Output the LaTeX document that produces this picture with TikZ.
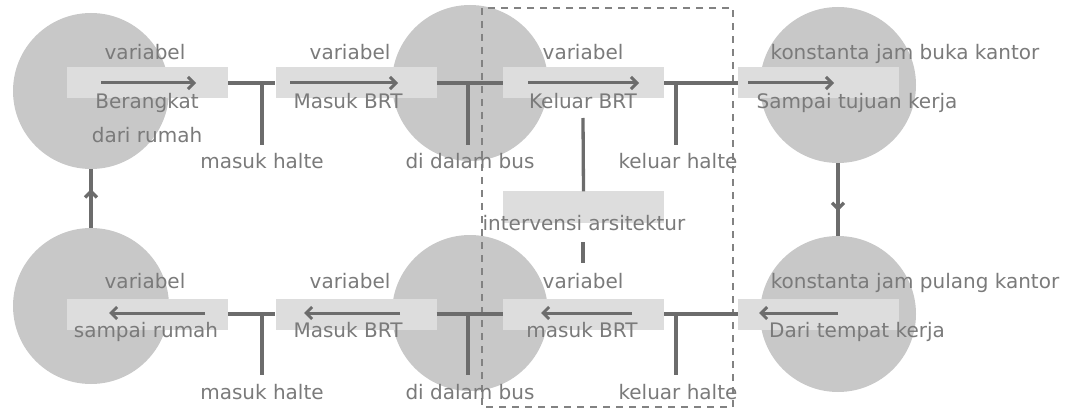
\documentclass[tikz,border=0pt]{standalone}
\usepackage{fontspec}
\setmainfont{DejaVu Sans}
\usetikzlibrary{arrows.meta,decorations.markings}

\definecolor{bubble}{RGB}{200,200,200}
\definecolor{band}{RGB}{221,221,221}
\definecolor{wire}{RGB}{108,108,108}
\definecolor{ink}{RGB}{122,122,122}

\begin{document}
\begin{tikzpicture}[x=1pt,y=-1pt,
        midtip/.style={postaction={decorate},
            decoration={markings,mark=at position 0.66 with {\arrow{Straight Barb[length=6pt,width=12pt]}}}}]
            \useasboundingbox (0,0) rectangle (1069,409);

            \begin{scope}[every node/.style={circle, fill=bubble, minimum size=156pt, inner sep=0pt}]
                \node (c1) at (91,91) {};
                \node (c2) at (470,83) {};
                \node (c3) at (838,85) {};
                \node (c4) at (91,306) {};
                \node (c5) at (470,313) {};
                \node (c6) at (838,314) {};
            \end{scope}

            \begin{scope}[every node/.style={rectangle, fill=band, minimum width=161pt, minimum height=31pt, inner sep=0pt}]
                \node (b1) at (147.5,83) {};
                \node (b2) at (356,83) {};
                \node (b3) at (583.5,83) {};
                \node (b4) at (818.5,83) {};
                \node (b5) at (147.5,314) {};
                \node (b6) at (356,314) {};
                \node (b7) at (583.5,314) {};
                \node (b8) at (818.5,314) {};
                \node (bi) at (583.5,207) {};
            \end{scope}

            % dashed frame
            \draw [wire!85, line width=1.6pt, dash pattern=on 7pt off 6pt] (482,8) rectangle (733,407);

            \coordinate (j1) at (262,83);  \coordinate (s1) at (262,145);
            \coordinate (j2) at (468,83);  \coordinate (s2) at (468,145);
            \coordinate (j3) at (676,83);  \coordinate (s3) at (676,145);
            \coordinate (j4) at (262,314); \coordinate (s4) at (262,375);
            \coordinate (j5) at (468,314); \coordinate (s5) at (468,375);
            \coordinate (j6) at (676,314); \coordinate (s6) at (676,375);
            \coordinate (k1) at (583,118);
            \coordinate (k2) at (583,242);
            \coordinate (k3) at (583,263);

            \coordinate (a1) at (101,83);  \coordinate (e1) at (196,83);
            \coordinate (a2) at (290,83);  \coordinate (e2) at (398,83);
            \coordinate (a3) at (528,83);  \coordinate (e3) at (639,83);
            \coordinate (a4) at (748,83);  \coordinate (e4) at (834,83);
            \coordinate (a5) at (205,313); \coordinate (e5) at (109,313);
            \coordinate (a6) at (400,313); \coordinate (e6) at (304,313);
            \coordinate (a7) at (632,313); \coordinate (e7) at (541,313);
            \coordinate (a8) at (838,313); \coordinate (e8) at (759,313);

            \begin{scope}[every edge/.style={draw=wire, line width=3.3pt}]
                \path [-] (b1) edge (b2);
                \path [-] (b2) edge (b3);
                \path [-] (b3) edge (b4);
                \path [-] (b5) edge (b6);
                \path [-] (b6) edge (b7);
                \path [-] (b7) edge (b8);
                \path [-] (j1) edge (s1);
                \path [-] (j2) edge (s2);
                \path [-] (j3) edge (s3);
                \path [-] (j4) edge (s4);
                \path [-] (j5) edge (s5);
                \path [-] (j6) edge (s6);
                \path [-] (k1) edge (bi.north);
                \path [-] (k2) edge (k3);
                \path [-] (c4) edge[midtip] (c1);
                \path [-] (c3) edge[midtip] (c6);
            \end{scope}

            \begin{scope}[every edge/.style={draw=wire, line width=3pt}]
                \path [-{Straight Barb[length=6pt,width=12pt]}] (a1) edge (e1);
                \path [-{Straight Barb[length=6pt,width=12pt]}] (a2) edge (e2);
                \path [-{Straight Barb[length=6pt,width=12pt]}] (a3) edge (e3);
                \path [-{Straight Barb[length=6pt,width=12pt]}] (a4) edge (e4);
                \path [-{Straight Barb[length=6pt,width=12pt]}] (a5) edge (e5);
                \path [-{Straight Barb[length=6pt,width=12pt]}] (a6) edge (e6);
                \path [-{Straight Barb[length=6pt,width=12pt]}] (a7) edge (e7);
                \path [-{Straight Barb[length=6pt,width=12pt]}] (a8) edge (e8);
            \end{scope}

            \begin{scope}[every node/.style={text=ink, font=\fontsize{20}{24}\selectfont, inner sep=0pt, anchor=base}]
                \node (v1) at (145,60) {variabel};
                \node (v2) at (350,60) {variabel};
                \node (v3) at (583,60) {variabel};
                \node (kb) at (905,60) {konstanta jam buka kantor};
                \node (t1) at (147,109) {Berangkat};
                \node (t1b) at (147,143) {dari rumah};
                \node (t2) at (348,109) {Masuk BRT};
                \node (t3) at (583,109) {Keluar BRT};
                \node (t4) at (857,109) {Sampai tujuan kerja};
                \node (h1) at (262,169) {masuk halte};
                \node (h2) at (470,169) {di dalam bus};
                \node (h3) at (678,169) {keluar halte};
                \node (ia) at (584,230) {intervensi arsitektur};
                \node (v5) at (145,288) {variabel};
                \node (v6) at (350,288) {variabel};
                \node (v7) at (583,288) {variabel};
                \node (kp) at (915,288) {konstanta jam pulang kantor};
                \node (t5) at (146,337) {sampai rumah};
                \node (t6) at (348,337) {Masuk BRT};
                \node (t7) at (582,337) {masuk BRT};
                \node (t8) at (857,337) {Dari tempat kerja};
                \node (h4) at (262,399) {masuk halte};
                \node (h5) at (470,399) {di dalam bus};
                \node (h6) at (678,399) {keluar halte};
            \end{scope}
        \end{tikzpicture}
\end{document}
